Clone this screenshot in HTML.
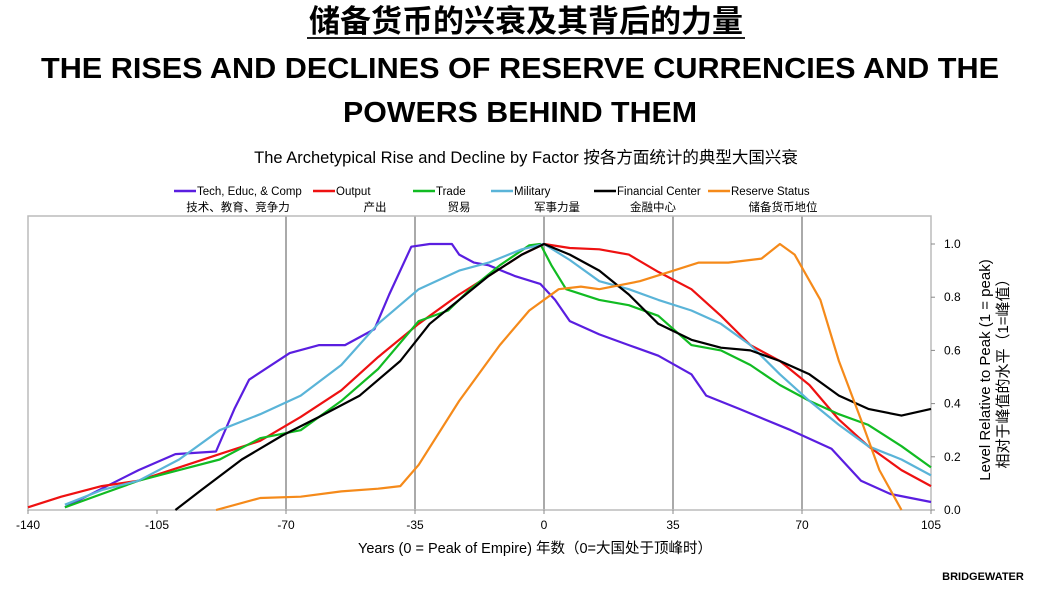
<!DOCTYPE html>
<html><head><meta charset="utf-8"><style>
body{margin:0;width:1037px;height:589px;background:#fff;overflow:hidden;font-family:"Liberation Sans","Noto Sans CJK SC",sans-serif}
</style></head><body>
<svg width="1037" height="589" xmlns="http://www.w3.org/2000/svg" style="position:absolute;left:0;top:0" font-family="Liberation Sans, Noto Sans CJK SC, sans-serif">
<text x="526" y="32" text-anchor="middle" font-size="31" font-weight="bold">储备货币的兴衰及其背后的力量</text>
<line x1="307" y1="38" x2="745" y2="38" stroke="#000" stroke-width="1.8"/>
<text x="520" y="78" text-anchor="middle" font-size="29" font-weight="bold" textLength="958" lengthAdjust="spacingAndGlyphs">THE RISES AND DECLINES OF RESERVE CURRENCIES AND THE</text>
<text x="520" y="122" text-anchor="middle" font-size="29" font-weight="bold" textLength="354" lengthAdjust="spacingAndGlyphs">POWERS BEHIND THEM</text>
<text x="526" y="163" text-anchor="middle" font-size="16.5">The Archetypical Rise and Decline by Factor 按各方面统计的典型大国兴衰</text>
<g id="legend" font-size="11.5"></g>
<g id="grid"></g>
<rect x="28" y="216" width="903" height="294" fill="none" stroke="#bbb" stroke-width="1.5"/>
<g id="series"></g>
<g id="axes" font-size="12"></g>
<text x="535" y="553" text-anchor="middle" font-size="14.5">Years (0 = Peak of Empire) 年数（0=大国处于顶峰时）</text>
<text transform="translate(990,370) rotate(-90)" text-anchor="middle" font-size="15">Level Relative to Peak (1 = peak)</text>
<text transform="translate(1008,370) rotate(-90)" text-anchor="middle" font-size="15">相对于峰值的水平（1=峰值）</text>
<text x="983" y="580" text-anchor="middle" font-size="11" font-weight="bold">BRIDGEWATER</text>
</svg>
<script>
const xTicks=[-140,-105,-70,-35,0,35,70,105];
const yTicks=[0,0.2,0.4,0.6,0.8,1.0];
const gridYears=[-70,-35,0,35,70];
const seriesNames=["Tech, Educ, & Comp","Output","Trade","Military","Financial Center","Reserve Status"];
const seriesCN=["技术、教育、竞争力","产出","贸易","军事力量","金融中心","储备货币地位"];
const seriesColors=["#5a1ee0","#ee1111","#11bb22","#5ab4d8","#000000","#f58a1a"];
const techYears=[-130,-120,-110,-100,-89,-84,-80,-69,-61,-54,-46,-42,-36,-31,-25,-23,-19,-15,-8,-1,3,7,15,23,31,40,44,53,67,78,86,94,105];
const techVals=[0.01,0.08,0.15,0.21,0.22,0.38,0.49,0.59,0.62,0.62,0.68,0.81,0.99,1.0,1.0,0.96,0.93,0.92,0.88,0.85,0.79,0.71,0.66,0.62,0.58,0.51,0.43,0.38,0.30,0.23,0.11,0.06,0.03];
const outputYears=[-140,-131,-120,-110,-99,-88,-77,-66,-55,-45,-34,-23,-15,-6,0,7,15,23,31,40,48,56,64,72,80,88,97,105];
const outputVals=[0.01,0.05,0.09,0.11,0.16,0.21,0.26,0.35,0.45,0.575,0.70,0.81,0.88,0.96,1.0,0.985,0.98,0.96,0.895,0.83,0.73,0.62,0.56,0.47,0.34,0.24,0.15,0.09];
const tradeYears=[-130,-120,-110,-99,-88,-77,-66,-55,-45,-34,-26,-20,-12,-4,-1,2,6,15,23,31,40,48,56,64,72,80,88,97,105];
const tradeVals=[0.01,0.06,0.11,0.15,0.19,0.27,0.30,0.41,0.53,0.71,0.75,0.83,0.92,0.995,1.0,0.92,0.83,0.79,0.77,0.73,0.62,0.60,0.545,0.47,0.41,0.36,0.32,0.24,0.16];
const militaryYears=[-130,-120,-110,-99,-88,-77,-66,-55,-45,-34,-23,-15,-6,0,7,15,23,31,40,48,56,64,72,80,88,97,105];
const militaryVals=[0.02,0.075,0.11,0.19,0.30,0.36,0.43,0.545,0.70,0.83,0.90,0.93,0.98,1.0,0.94,0.86,0.83,0.79,0.75,0.70,0.62,0.51,0.41,0.32,0.24,0.19,0.13];
const financeYears=[-100,-93,-82,-71,-61,-50,-39,-31,-23,-15,-6,0,7,15,23,31,40,48,56,64,72,80,88,97,105];
const financeVals=[0.0,0.075,0.19,0.28,0.35,0.43,0.56,0.70,0.79,0.88,0.96,1.0,0.96,0.90,0.81,0.70,0.64,0.61,0.60,0.56,0.51,0.43,0.38,0.355,0.38];
const reserveYears=[-89,-77,-66,-55,-45,-39,-34,-23,-12,-4,4,10,15,26,34,42,50,59,64,68,75,80,86,91,97];
const reserveVals=[0.0,0.045,0.05,0.07,0.08,0.09,0.17,0.41,0.62,0.75,0.83,0.84,0.83,0.86,0.895,0.93,0.93,0.945,1.0,0.96,0.79,0.56,0.34,0.15,0.0];
const allYears=[techYears,outputYears,tradeYears,militaryYears,financeYears,reserveYears];
const allVals=[techVals,outputVals,tradeVals,militaryVals,financeVals,reserveVals];
const NS="http://www.w3.org/2000/svg";
function xs(t){return 28+(t+140)*(903/245);}
function ys(v){return 510-266*v;}
function mk(tag,attrs,parent){const e=document.createElementNS(NS,tag);for(const k in attrs)e.setAttribute(k,attrs[k]);parent.appendChild(e);return e;}
const grid=document.getElementById('grid');
gridYears.forEach(g=>{const l=mk('line',{x1:xs(g),x2:xs(g),y1:216,y2:510,stroke:'#aaa','stroke-width':2},grid);

});
const ax=document.getElementById('axes');
xTicks.forEach(t=>{const tx=mk('text',{x:xs(t),y:529,'text-anchor':'middle'},ax);tx.textContent=t;


mk('line',{x1:xs(t),x2:xs(t),y1:510,y2:514,stroke:'#888'},ax);});
yTicks.forEach(v=>{const tx=mk('text',{x:944,y:ys(v)+4},ax);tx.textContent=v.toFixed(1);


mk('line',{x1:931,x2:935,y1:ys(v),y2:ys(v),stroke:'#888'},ax);});
const sg=document.getElementById('series');
allYears.forEach((yr,i)=>{const pts=yr.map((t,j)=>xs(t).toFixed(1)+','+ys(allVals[i][j]).toFixed(1)).join(' ');
const p=mk('polyline',{points:pts,fill:'none',stroke:seriesColors[i],'stroke-width':2.2,'stroke-linejoin':'round'},sg);

});
const lg=document.getElementById('legend');
const lx=[174,313,413,491,594,708];
const cnx=[238,375,459,557,653,783];
seriesNames.forEach((n,i)=>{mk('line',{x1:lx[i],x2:lx[i]+22,y1:191,y2:191,stroke:seriesColors[i],'stroke-width':2.5},lg);
const t=mk('text',{x:lx[i]+23,y:195},lg);t.textContent=n;


const c=mk('text',{x:cnx[i],y:211,'text-anchor':'middle'},lg);c.textContent=seriesCN[i];

});
</script>
</body></html>
